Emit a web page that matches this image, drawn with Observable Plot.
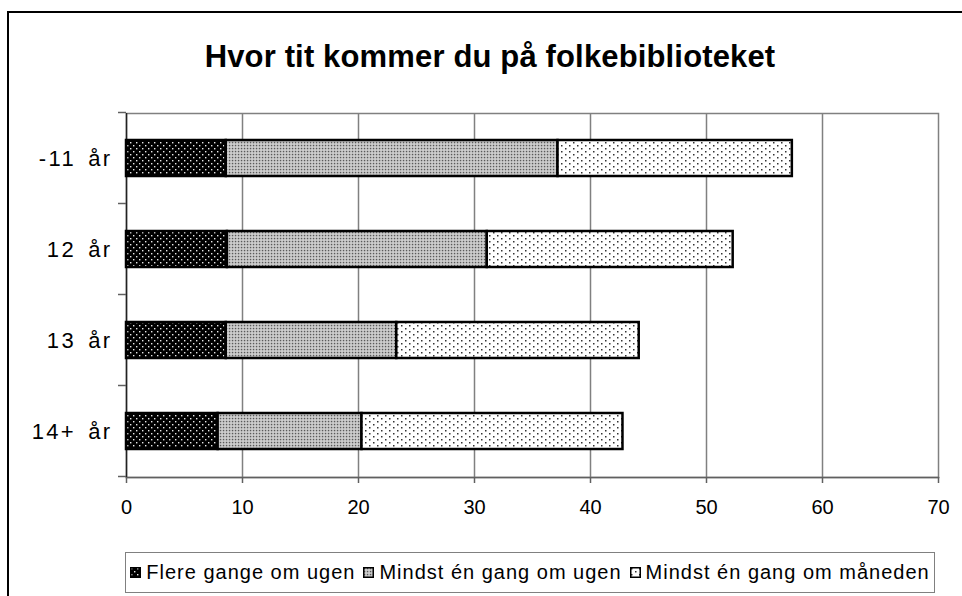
<!DOCTYPE html>
<html>
<head>
<meta charset="utf-8">
<script src="https://cdn.jsdelivr.net/npm/d3@7"></script>
<script src="https://cdn.jsdelivr.net/npm/@observablehq/plot@0.6"></script>
<style>
  html, body { margin: 0; padding: 0; background: #fff; overflow: hidden; }
  body { width: 962px; height: 596px; position: relative; font-family: "Liberation Sans", Arial, sans-serif; }
  #outer { position: absolute; left: 0; top: 0; }
  #chart { position: absolute; left: 0; top: 0; width: 962px; height: 530px; overflow: hidden; }
  #title { position: absolute; left: 0; width: 980px; top: 39px; line-height: 36px; text-align: center; font-weight: bold; font-size: 31px; letter-spacing: 0.15px; color: #000; }
  #legend { position: absolute; left: 125px; top: 552px; width: 808px; height: 39px; border: 1.5px solid #808080; display: flex; align-items: center; justify-content: center; font-size: 20px; letter-spacing: 1px; color: #000; white-space: nowrap; }
  .item { display: flex; align-items: center; margin: 0 4px; }
  .item svg { margin-right: 5px; }
  #chart svg g[aria-label="y-axis tick label"] text { letter-spacing: 2.3px; word-spacing: 4px; }
</style>
</head>
<body>
<svg id="outer" width="962" height="596">
  <defs>
    <pattern id="pDark" patternUnits="userSpaceOnUse" width="6" height="6">
      <rect width="6" height="6" fill="#000"/>
      <rect x="1" y="1" width="1.4" height="1.4" fill="#e8e8e8"/>
      <rect x="4" y="4" width="1.4" height="1.4" fill="#e8e8e8"/>
    </pattern>
    <pattern id="pMid" patternUnits="userSpaceOnUse" width="3" height="3">
      <rect width="3" height="3" fill="#d2d2d2"/>
      <rect x="0.8" y="0.8" width="1.5" height="1.5" fill="#5a5a5a"/>
    </pattern>
    <pattern id="pLight" patternUnits="userSpaceOnUse" width="8" height="6">
      <rect width="8" height="6" fill="#fff"/>
      <rect x="1" y="1" width="1.5" height="1.5" fill="#333"/>
      <rect x="5" y="4" width="1.5" height="1.5" fill="#333"/>
    </pattern>
  </defs>
  <path d="M8,600 L8,12 L970,12" fill="none" stroke="#000" stroke-width="2"/>
</svg>
<div id="chart"></div>
<div id="title">Hvor tit kommer du på folkebiblioteket</div>
<div id="legend"></div>
<script>
const ages = ["-11 år", "12 år", "13 år", "14+ år"];
const seriesNames = ["Flere gange om ugen", "Mindst én gang om ugen", "Mindst én gang om måneden"];
const flereGangeOmUgen = [8.6, 8.7, 8.6, 7.9];
const mindstEnGangOmUgen = [28.6, 22.4, 14.7, 12.4];
const mindstEnGangOmMaaneden = [20.2, 21.2, 20.9, 22.5];
const xTicks = [0, 10, 20, 30, 40, 50, 60, 70];
const patternFills = ["url(#pDark)", "url(#pMid)", "url(#pLight)"];

const seriesValues = [flereGangeOmUgen, mindstEnGangOmUgen, mindstEnGangOmMaaneden];
const data = [];
ages.forEach((age, i) => {
  seriesNames.forEach((s, j) => data.push({age, series: s, value: seriesValues[j][i]}));
});

const chart = Plot.plot({
  width: 962,
  height: 530,
  marginLeft: 126,
  marginRight: 24,
  marginTop: 113,
  marginBottom: 53,
  style: {background: "transparent", fontFamily: "'Liberation Sans', Arial, sans-serif"},
  x: {domain: [0, 70], ticks: xTicks},
  y: {domain: ages, paddingInner: 0.6, paddingOuter: 0.3},
  color: {domain: seriesNames, range: patternFills},
  marks: [
    Plot.gridX(xTicks.slice(1, -1), {stroke: "#808080", strokeOpacity: 1, strokeWidth: 1.5}),
    Plot.frame({stroke: "#808080", strokeWidth: 1.5}),
    Plot.frame({anchor: "bottom", stroke: "#606060", strokeWidth: 1.5}),
    Plot.ruleX([0], {stroke: "#222", strokeWidth: 1.5}),
    Plot.barX(data, {y: "age", x: "value", fill: "series", stroke: "#000", strokeWidth: 2.5, order: null}),
    Plot.axisX({ticks: xTicks, tickSize: 6, tickPadding: 16, fontSize: 20, stroke: "#606060", strokeWidth: 1.5, color: "#000", label: null}),
    Plot.axisY({tickSize: 0, tickPadding: 14, fontSize: 22, label: null})
  ]
});
document.getElementById("chart").appendChild(chart);

// band boundary tick marks on the category axis, from the plot's own scales
const ys = chart.scale("y");
const xs = chart.scale("x");
const x0 = xs.apply(0);
const gap = (ys.step - ys.bandwidth) / 2;
const bounds = ages.map(a => ys.apply(a) - gap);
bounds.push(ys.apply(ages[ages.length - 1]) + ys.bandwidth + gap);
d3.select(chart).append("g")
  .selectAll("line").data(bounds).join("line")
  .attr("x1", x0 - 8).attr("x2", x0)
  .attr("y1", d => d).attr("y2", d => d)
  .attr("stroke", "#606060").attr("stroke-width", 1.5);

// legend
const legend = d3.select("#legend");
seriesNames.forEach((s, j) => {
  const item = legend.append("div").attr("class", "item");
  const sw = item.append("svg").attr("width", 11).attr("height", 11);
  sw.append("rect").attr("x", 0.75).attr("y", 0.75).attr("width", 9.5).attr("height", 9.5)
    .attr("fill", patternFills[j]).attr("stroke", "#000").attr("stroke-width", 1.5);
  item.append("span").text(s);
});
</script>
</body>
</html>
